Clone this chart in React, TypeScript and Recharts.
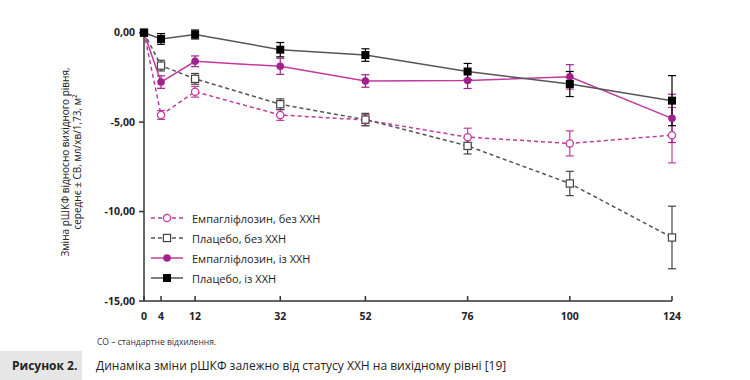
import React from 'react'
import { LineChart, Line, XAxis, YAxis, ErrorBar, Legend } from 'recharts'

// ---------------------------------------------------------------------------
// Data
// ---------------------------------------------------------------------------

const weeks = [0, 4, 12, 32, 52, 76, 100, 124]
const xTicks = [0, 4, 12, 32, 52, 76, 100, 124]
const yTicks = [0, -5, -10, -15]

const empaNoCkd = [0, -4.6, -3.3, -4.6, -4.88, -5.84, -6.19, -5.73]
const empaNoCkdErr = [0, 0.25, 0.3, 0.3, 0.3, 0.5, 0.7, 1.55]
const placeboNoCkd = [0, -1.84, -2.58, -4.0, -4.86, -6.33, -8.43, -11.45]
const placeboNoCkdErr = [0, 0.3, 0.3, 0.3, 0.35, 0.45, 0.68, 1.75]
const empaCkd = [0, -2.76, -1.6, -1.88, -2.7, -2.67, -2.47, -4.79]
const empaCkdErr = [0, 0.35, 0.3, 0.45, 0.35, 0.45, 0.68, 1.35]
const placeboCkd = [0, -0.35, -0.1, -0.95, -1.25, -2.17, -2.87, -3.8]
const placeboCkdErr = [0, 0.3, 0.25, 0.4, 0.35, 0.45, 0.7, 1.4]

const seriesNames = [
  'Емпагліфлозин, без ХХН',
  'Плацебо, без ХХН',
  'Емпагліфлозин, із ХХН',
  'Плацебо, із ХХН',
]

const data = weeks.map((w, i) => ({
  week: w,
  empaNoCkd: empaNoCkd[i],
  empaNoCkdErr: empaNoCkdErr[i],
  placeboNoCkd: placeboNoCkd[i],
  placeboNoCkdErr: placeboNoCkdErr[i],
  empaCkd: empaCkd[i],
  empaCkdErr: empaCkdErr[i],
  placeboCkd: placeboCkd[i],
  placeboCkdErr: placeboCkdErr[i],
}))

// ---------------------------------------------------------------------------
// Styles
// ---------------------------------------------------------------------------

const FONT = '"Open Sans", "Noto Sans", sans-serif'
const MAGENTA = '#c13a9f'
const MAGENTA_DARK = '#a1208c'
const GREY = '#555555'
const AXIS = '#333333'

type Kind = 'openCircle' | 'openSquare' | 'circle' | 'square'

const seriesStyle: { key: string; kind: Kind; color: string; marker: string; dash?: string }[] = [
  { key: 'empaNoCkd', kind: 'openCircle', color: MAGENTA, marker: MAGENTA, dash: '4 3' },
  { key: 'placeboNoCkd', kind: 'openSquare', color: GREY, marker: '#444', dash: '4 3' },
  { key: 'empaCkd', kind: 'circle', color: MAGENTA, marker: MAGENTA_DARK },
  { key: 'placeboCkd', kind: 'square', color: GREY, marker: '#000' },
]

function Marker({ kind, cx, cy, color }: { kind: Kind; cx: number; cy: number; color: string }) {
  if (kind === 'openCircle')
    return <circle cx={cx} cy={cy} r={3.6} fill="#fff" stroke={color} strokeWidth={1.3} />
  if (kind === 'circle') return <circle cx={cx} cy={cy} r={3.8} fill={color} stroke="none" />
  if (kind === 'openSquare')
    return <rect x={cx - 3.6} y={cy - 3.6} width={7.2} height={7.2} fill="#fff" stroke={color} strokeWidth={1.2} />
  return <rect x={cx - 4} y={cy - 4} width={8} height={8} fill={color} />
}

const makeDot = (kind: Kind, color: string) => (props: any) => {
  const { cx, cy, index } = props
  if (cx == null || cy == null) return <g key={`d-${index}`} />
  return (
    <g key={`d-${kind}-${index}`}>
      <Marker kind={kind} cx={cx} cy={cy} color={color} />
    </g>
  )
}

const fmtY = (v: number) => v.toFixed(2).replace('.', ',')

function LegendContent() {
  return (
    <div style={{ fontFamily: FONT, fontSize: 11, color: '#222' }}>
      {seriesStyle.map((s, i) => (
        <div key={s.key} style={{ display: 'flex', alignItems: 'center', height: 20 }}>
          <svg width={36} height={12} style={{ marginRight: 6 }}>
            <line x1={1} y1={6} x2={33} y2={6} stroke={s.color} strokeWidth={1.5} strokeDasharray={s.dash} />
            <Marker kind={s.kind} cx={17} cy={6} color={s.marker} />
          </svg>
          <span>{seriesNames[i]}</span>
        </div>
      ))}
    </div>
  )
}

// ---------------------------------------------------------------------------
// Component
// ---------------------------------------------------------------------------

export default function App() {
  return (
    <div style={{ position: 'absolute', left: 0, top: 0, width: 750, height: 380, background: '#fff', fontFamily: FONT }}>
      <LineChart
        width={750}
        height={380}
        data={data}
        margin={{ top: 30, right: 78, bottom: 49, left: 0 }}
      >
        <XAxis
          dataKey="week"
          type="number"
          domain={[0, 124]}
          ticks={xTicks}
          interval={0}
          height={30}
          tickSize={-5}
          tickMargin={17}
          stroke={AXIS}
          strokeWidth={1.5}
          tick={{ fontSize: 10.5, fontWeight: 700, fill: '#222', fontFamily: FONT }}
        />
        <YAxis
          type="number"
          domain={[-15, 0]}
          ticks={yTicks}
          interval={0}
          width={144}
          tickSize={5}
          tickMargin={4}
          tickFormatter={fmtY}
          stroke={AXIS}
          strokeWidth={1.5}
          tick={{ fontSize: 10.5, fontWeight: 700, fill: '#222', fontFamily: FONT }}
        />
        <Legend
          layout="horizontal"
          align="center"
          verticalAlign="middle"
          content={<LegendContent />}
          wrapperStyle={{ position: 'absolute', left: 150, top: 208, width: 200 }}
        />
        {seriesStyle.map((s, i) => (
          <Line
            key={s.key}
            dataKey={s.key}
            name={seriesNames[i]}
            stroke={s.color}
            strokeWidth={1.5}
            strokeDasharray={s.dash}
            dot={makeDot(s.kind, s.marker)}
            activeDot={false}
            isAnimationActive={false}
          >
            <ErrorBar dataKey={`${s.key}Err`} width={4} stroke={s.marker} strokeWidth={1.2} direction="y" />
          </Line>
        ))}
      </LineChart>

      <div
        style={{
          position: 'absolute',
          left: 71,
          top: 162,
          transform: 'translate(-50%, -50%) rotate(-90deg)',
          textAlign: 'center',
          fontSize: 10,
          lineHeight: '12px',
          color: '#222',
          whiteSpace: 'nowrap',
        }}
      >
        Зміна рШКФ відносно вихідного рівня,
        <br />
        середнє ± СВ, мл/хв/1,73, м²
      </div>

      <div style={{ position: 'absolute', left: 97, top: 336, fontSize: 8.5, color: '#333' }}>
        СО – стандартне відхилення.
      </div>

      <div
        style={{
          position: 'absolute',
          left: 0,
          top: 351,
          width: 82,
          height: 29,
          background: '#e6e6e6',
        }}
      />
      <div style={{ position: 'absolute', left: 12, top: 357, fontSize: 12, fontWeight: 700, color: '#222' }}>
        Рисунок 2.
      </div>
      <div style={{ position: 'absolute', left: 96, top: 357, fontSize: 12, color: '#222' }}>
        Динаміка зміни рШКФ залежно від статусу ХХН на вихідному рівні [19]
      </div>
    </div>
  )
}
